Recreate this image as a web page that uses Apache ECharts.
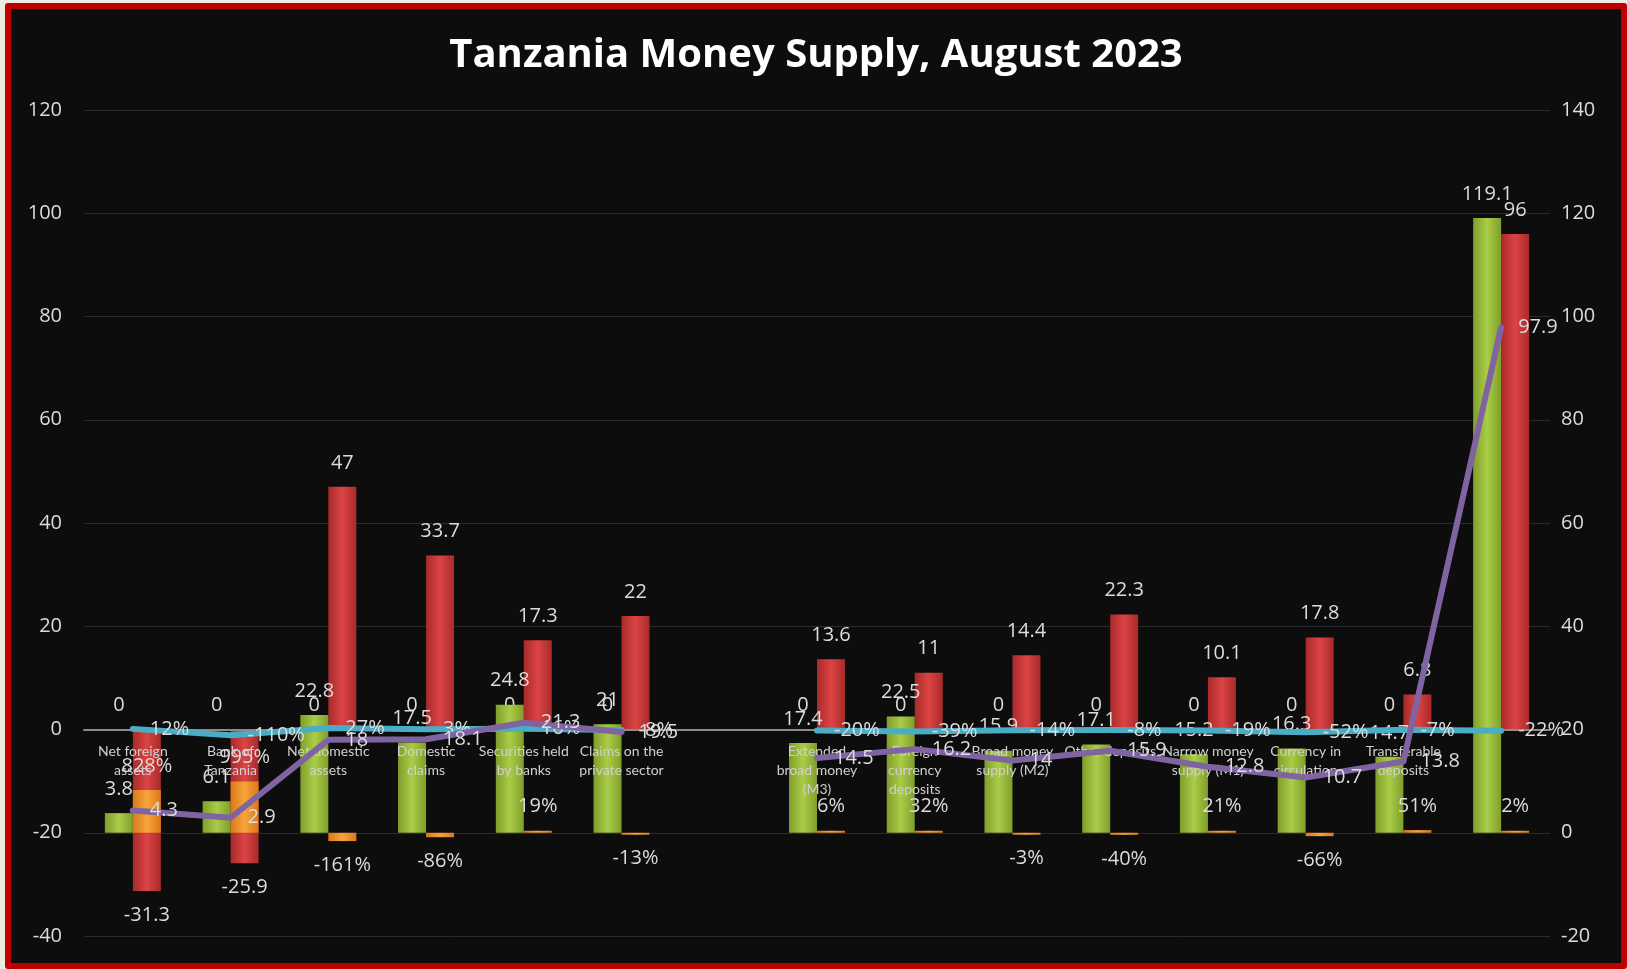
<!DOCTYPE html>
<html>
<head>
<meta charset="utf-8">
<title>Tanzania Money Supply, August 2023</title>
<script src="https://cdn.jsdelivr.net/npm/echarts@6/dist/echarts.min.js"></script>
<style>
html, body { margin: 0; padding: 0; background: #eeece1; }
#frame { position: absolute; left: 5px; top: 3px; right: 0; bottom: 0; border: 6px solid #c00000; border-radius: 3px; background: #0d0d0d; }
#main { width: 100%; height: 100%; }
</style>
</head>
<body>
<div id="frame"><div id="main"></div></div>
<script>
// categories (last slot has no label in the original)
var categories = ['Net foreign\nassets', 'Bank of\nTanzania', 'Net domestic\nassets', 'Domestic\nclaims',
    'Securities held\nby banks', 'Claims on the\nprivate sector', '',
    'Extended\nbroad money\n(M3)', 'Foreign\ncurrency\ndeposits', 'Broad money\nsupply (M2)', 'Other deposits',
    'Narrow money\nsupply (M1)', 'Currency in\ncirculation', 'Transferable\ndeposits', ''];

// primary axis
var zeroValues  = [0, 0, 0, 0, 0, 0, null, 0, 0, 0, 0, 0, 0, 0, null];
var redValues   = [-31.3, -25.9, 47, 33.7, 17.3, 22, null, 13.6, 11, 14.4, 22.3, 10.1, 17.8, 6.8, 96];
var cyanValues  = [0.12, -1.10, 0.27, 0.03, 0.16, -0.08, null, -0.20, -0.39, -0.14, -0.08, -0.19, -0.52, -0.07, -0.22];
// secondary axis
var greenValues  = [3.8, 6.1, 22.8, 17.5, 24.8, 21, null, 17.4, 22.5, 15.9, 17.1, 15.2, 16.3, 14.7, 119.1];
var orangeValues = [8.28, 9.95, -1.61, -0.86, 0.19, -0.13, null, 0.06, 0.32, -0.03, -0.40, 0.21, -0.66, 0.51, 0.02];
var purpleValues = [4.3, 2.9, 18, 18.1, 21.3, 19.5, null, 14.5, 16.2, 14, 15.9, 12.8, 10.7, 13.8, 97.9];

var labelColor = '#dcdcdc';
var font = 'Open Sans';

var gridTop = 101, gridBottom = 27;
var chartHeight = 954;
// put the category axis on the left-axis zero line (range -40..120)
var zeroOffset = -(chartHeight - gridTop - gridBottom) * 40 / 160;

function barFill(edge, mid) {
    return new echarts.graphic.LinearGradient(0, 0, 1, 0, [
        {offset: 0, color: edge}, {offset: 0.5, color: mid}, {offset: 1, color: edge}
    ]);
}
function pct(p) {
    return Math.round(p.value * 100) + '%';
}
// label goes under the bar when the value is negative
function withSideLabels(arr) {
    return arr.map(function (v) {
        if (v == null) return null;
        return {value: v, label: {position: v < 0 ? 'bottom' : 'top'}};
    });
}

var myChart = echarts.init(document.getElementById('main'));

var dataLabel = {show: true, position: 'top', distance: 14, color: labelColor, fontSize: 20, fontFamily: font};
var lineLabel = {show: true, position: 'right', distance: 16, color: labelColor, fontSize: 20, fontFamily: font};

myChart.setOption({
    backgroundColor: '#0d0d0d',
    animation: false,
    title: {
        text: 'Tanzania Money Supply, August 2023',
        left: 'center',
        top: 22,
        textStyle: {color: '#ffffff', fontSize: 40, fontWeight: 'bold', fontFamily: font}
    },
    grid: {left: 73, right: 71, top: gridTop, bottom: gridBottom, outerBoundsMode: 'none', containLabel: false},
    xAxis: [
        {
            type: 'category',
            data: categories,
            offset: zeroOffset,
            z: 6,   // category names sit over the bars like in Excel
            axisLine: {onZero: false, lineStyle: {color: '#8c8c8c', width: 2}},
            axisTick: {show: false},
            axisLabel: {interval: 0, color: '#d0d0d0', fontFamily: 'Lato', fontSize: 14, lineHeight: 19, margin: 12}
        },
        {type: 'category', data: categories, show: false}
    ],
    yAxis: [
        {
            type: 'value', min: -40, max: 120, interval: 20,
            axisLine: {show: false}, axisTick: {show: false},
            axisLabel: {color: labelColor, fontSize: 20, fontFamily: font, margin: 22},
            splitLine: {lineStyle: {color: '#2b2b2b', width: 1}}
        },
        {
            type: 'value', min: -20, max: 140, interval: 20,
            axisLine: {show: false}, axisTick: {show: false},
            axisLabel: {color: labelColor, fontSize: 20, fontFamily: font, margin: 11},
            splitLine: {show: false}
        }
    ],
    series: [
        {
            name: 'zero', type: 'bar', xAxisIndex: 0, yAxisIndex: 0,
            data: zeroValues, barWidth: 28, barGap: '0%', z: 2,
            itemStyle: {color: 'rgba(0,0,0,0)'},
            label: dataLabel
        },
        {
            name: 'red', type: 'bar', xAxisIndex: 0, yAxisIndex: 0,
            data: withSideLabels(redValues), barWidth: 28, barGap: '0%', z: 2,
            itemStyle: {color: barFill('#a82a2a', '#dc4444')},
            label: dataLabel
        },
        {
            name: 'green', type: 'bar', xAxisIndex: 1, yAxisIndex: 1,
            data: greenValues, barWidth: 28, barGap: '0%', z: 3,
            itemStyle: {color: barFill('#7f9e2a', '#aacd48')},
            label: dataLabel
        },
        {
            name: 'orange', type: 'bar', xAxisIndex: 1, yAxisIndex: 1,
            data: withSideLabels(orangeValues), barWidth: 28, barGap: '0%', barMinHeight: 2, z: 3,
            itemStyle: {color: barFill('#d9791a', '#f7a43c')},
            label: Object.assign({}, dataLabel, {formatter: pct})
        },
        {
            name: 'cyan', type: 'line', xAxisIndex: 0, yAxisIndex: 0,
            data: cyanValues, symbol: 'circle', symbolSize: 2, showSymbol: true, z: 7,
            itemStyle: {color: '#4bacc6'},
            lineStyle: {color: '#4bacc6', width: 6, cap: 'round', join: 'round'},
            label: Object.assign({}, lineLabel, {formatter: pct})
        },
        {
            name: 'purple', type: 'line', xAxisIndex: 1, yAxisIndex: 1,
            data: purpleValues, symbol: 'circle', symbolSize: 2, showSymbol: true, z: 8,
            itemStyle: {color: '#8064a2'},
            lineStyle: {color: '#8064a2', width: 6, cap: 'round', join: 'round'},
            label: lineLabel
        }
    ]
});
</script>
</body>
</html>
